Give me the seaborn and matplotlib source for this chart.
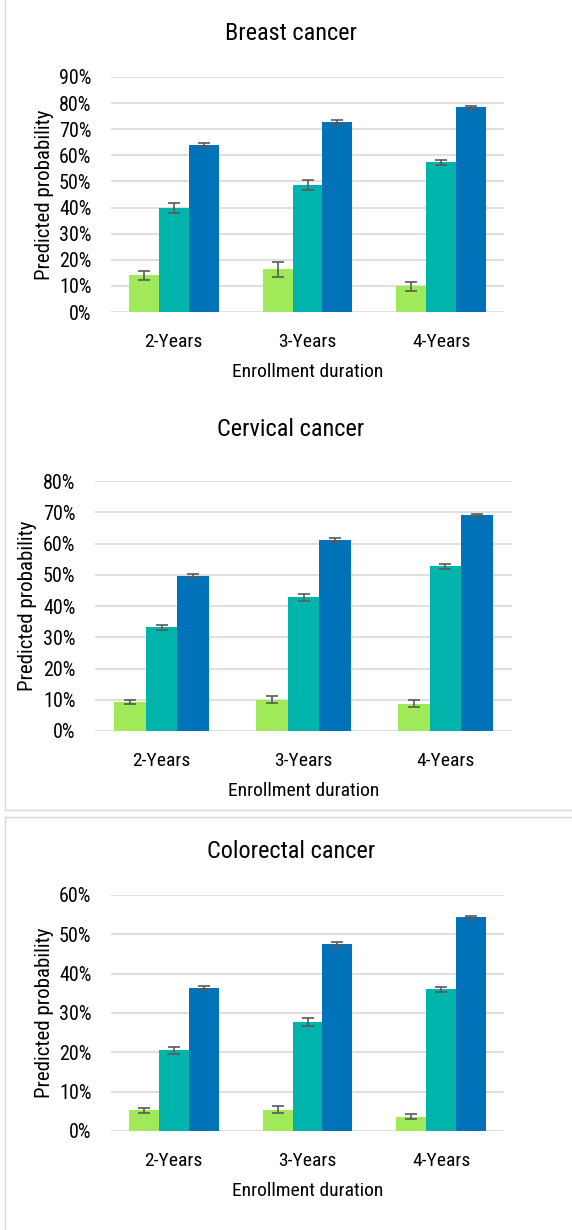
import numpy as np
import pandas as pd
import seaborn as sns
import matplotlib.pyplot as plt
from matplotlib.lines import Line2D
from matplotlib.ticker import PercentFormatter

sns.set_theme(style="white")
plt.rcParams['font.family'] = ['Liberation Sans Narrow', 'Roboto Condensed',
                               'Roboto', 'DejaVu Sans']
plt.rcParams['text.color'] = 'black'
plt.rcParams['xtick.color'] = 'black'
plt.rcParams['ytick.color'] = 'black'

#%% Data
durations = ["2-Years", "3-Years", "4-Years"]
groups = ["Group A", "Group B", "Group C"]
colors = ["#A0EA5A", "#00B4AC", "#0072BA"]

breast_a = [14.0, 16.3, 9.8]
breast_b = [39.8, 48.7, 57.3]
breast_c = [63.9, 72.6, 78.4]
breast_err_a = [1.8, 2.9, 1.8]
breast_err_b = [2.0, 2.0, 1.1]
breast_err_c = [0.7, 1.1, 0.6]

cervical_a = [9.3, 10.0, 8.7]
cervical_b = [33.2, 42.8, 52.7]
cervical_c = [49.7, 61.1, 69.0]
cervical_err_a = [0.7, 1.1, 1.1]
cervical_err_b = [0.8, 1.1, 0.7]
cervical_err_c = [0.5, 0.7, 0.5]

colorectal_a = [5.3, 5.4, 3.65]
colorectal_b = [20.5, 27.7, 36.0]
colorectal_c = [36.4, 47.5, 54.3]
colorectal_err_a = [0.6, 0.9, 0.6]
colorectal_err_b = [0.9, 1.1, 0.7]
colorectal_err_c = [0.5, 0.6, 0.4]

panels = [
    ("Breast cancer", [breast_a, breast_b, breast_c],
     [breast_err_a, breast_err_b, breast_err_c], 90),
    ("Cervical cancer", [cervical_a, cervical_b, cervical_c],
     [cervical_err_a, cervical_err_b, cervical_err_c], 80),
    ("Colorectal cancer", [colorectal_a, colorectal_b, colorectal_c],
     [colorectal_err_a, colorectal_err_b, colorectal_err_c], 60),
]

#%% Layout in pixels: (left, right, top, bottom) of each axes
W, H = 572, 1230
boxes = [(111, 504, 77, 312), (95, 512, 481, 731), (111, 504, 895, 1131)]
title_y = [33, 430, 852]
ylabel_x = [45, 28, 45]

fig = plt.figure(figsize=(W / 100, H / 100), dpi=100)
fig.patch.set_facecolor("white")

# panel frames
frame = "#D9D9D9"
fig.add_artist(Line2D([5 / W, 5 / W], [1, 1 - 810 / H], color=frame, lw=1))
fig.add_artist(Line2D([5 / W, 1], [1 - 810 / H] * 2, color=frame, lw=1))
fig.add_artist(Line2D([5 / W, 1], [1 - 817 / H] * 2, color=frame, lw=1))
fig.add_artist(Line2D([5 / W, 5 / W], [1 - 817 / H, 0], color=frame, lw=1))

for i, (title, vals, errs, ymax) in enumerate(panels):
    l, r, t, b = boxes[i]
    ax = fig.add_axes([l / W, 1 - b / H, (r - l) / W, (b - t) / H])

    df = pd.DataFrame({
        "duration": np.tile(durations, len(groups)),
        "group": np.repeat(groups, len(durations)),
        "value": np.concatenate(vals),
    })
    sns.barplot(data=df, x="duration", y="value", hue="group",
                order=durations, hue_order=groups, palette=colors,
                saturation=1, width=0.67, errorbar=None, legend=False,
                linewidth=0, edgecolor="none", ax=ax, zorder=2)

    # error bars centred on each bar
    for cont, v, e in zip(ax.containers, vals, errs):
        xs = [p.get_x() + p.get_width() / 2 for p in cont.patches]
        ax.errorbar(xs, v, yerr=e, fmt="none", ecolor="#5A5A5A",
                    elinewidth=1.2, capsize=4, capthick=1.2, zorder=3)

    ax.set_ylim(0, ymax)
    ax.set_yticks(np.arange(0, ymax + 1, 10))
    ax.yaxis.set_major_formatter(PercentFormatter(decimals=0))
    ax.grid(axis="y", color="#D9D9D9", lw=1.2, zorder=0)
    ax.set_axisbelow(True)
    for s in ax.spines.values():
        s.set_visible(False)
    ax.tick_params(axis="y", length=0, pad=14, labelsize=14.5)
    ax.tick_params(axis="x", length=0, pad=15, labelsize=14)
    ax.set_xlabel("")
    ax.set_ylabel("")

    fig.text((l + r) / 2 / W, 1 - ((b + 60) / H), "Enrollment duration",
             ha="center", va="center", fontsize=14)
    fig.text(ylabel_x[i] / W, 1 - (t + b) / 2 / H, "Predicted probability",
             ha="center", va="center", rotation=90, fontsize=15)
    fig.text(291 / W, 1 - title_y[i] / H, title,
             ha="center", va="center", fontsize=17.5)

fig.savefig("out.png", dpi=100, facecolor="white")
